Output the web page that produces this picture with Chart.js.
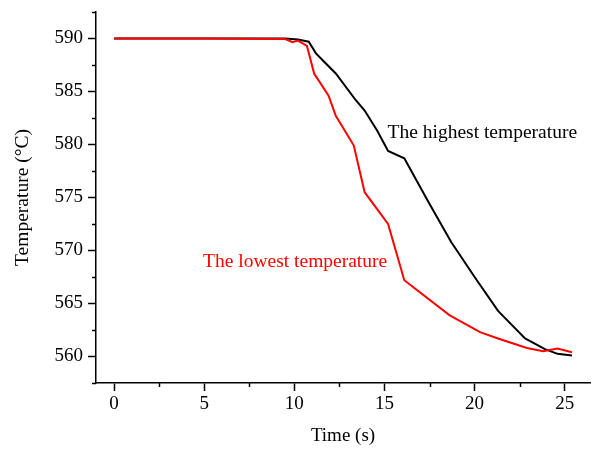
<!DOCTYPE html>
<html>
<head>
<meta charset="utf-8">
<script src="https://cdn.jsdelivr.net/npm/chart.js@4"></script>
<style>
  html, body { margin: 0; padding: 0; background: #fff; }
  #wrap { width: 592px; height: 452px; }
</style>
</head>
<body>
<div id="wrap"><canvas id="chart" width="592" height="452"></canvas></div>
<script>
// values
const highTime = [0, 5, 9.5, 10.2, 10.8, 11.2, 11.6, 12.3, 13.4, 13.9, 14.6, 15.2, 16.1, 17.4, 18.7, 20, 21.3, 22.8, 23.9, 24.6, 25.4];
const highTemp = [590, 590, 590, 589.9, 589.7, 588.6, 587.9, 586.7, 584.2, 583.2, 581.3, 579.4, 578.7, 574.7, 570.8, 567.5, 564.3, 561.7, 560.7, 560.25, 560.1];

const lowTime = [0, 5, 9.5, 9.9, 10.2, 10.7, 11.1, 11.9, 12.3, 13.3, 13.9, 15.2, 16.1, 18.6, 20.3, 21.3, 22.9, 23.8, 24.6, 25.4];
const lowTemp = [590, 590, 589.95, 589.65, 589.8, 589.3, 586.7, 584.6, 582.7, 579.9, 575.5, 572.5, 567.2, 563.9, 562.3, 561.7, 560.8, 560.5, 560.75, 560.4];

const xMajor = [0, 5, 10, 15, 20, 25];
const yMajor = [560, 565, 570, 575, 580, 585, 590];

const labels = [
  { text: 'The highest temperature', x: 15.17, y: 580.57, color: '#000000' },
  { text: 'The lowest temperature', x: 4.94, y: 568.4, color: '#ff0000' }
];

const FONT = "'Liberation Serif', 'Times New Roman', serif";

function toPoints(xs, ys) {
  return xs.map((x, i) => ({ x: x, y: ys[i] }));
}

function isMajor(v, list) {
  return list.some(m => Math.abs(m - v) < 1e-6);
}

// short ticks between the labelled ones
const minorTicks = {
  id: 'minorTicks',
  afterDraw(chart) {
    const c = chart.ctx;
    const xs = chart.scales.x, ys = chart.scales.y;
    const area = chart.chartArea;
    c.save();
    c.strokeStyle = '#000';
    c.lineWidth = 1.5;
    xs.ticks.forEach(t => {
      if (isMajor(t.value, xMajor)) return;
      const px = Math.round(xs.getPixelForValue(t.value)) + 0.5;
      c.beginPath();
      c.moveTo(px, area.bottom);
      c.lineTo(px, area.bottom + 4);
      c.stroke();
    });
    ys.ticks.forEach(t => {
      if (isMajor(t.value, yMajor)) return;
      const py = Math.round(ys.getPixelForValue(t.value)) + 0.5;
      c.beginPath();
      c.moveTo(area.left, py);
      c.lineTo(area.left - 4, py);
      c.stroke();
    });
    c.restore();
  }
};

const curveLabels = {
  id: 'curveLabels',
  afterDatasetsDraw(chart) {
    const c = chart.ctx;
    c.save();
    c.font = '19.5px ' + FONT;
    c.textAlign = 'left';
    c.textBaseline = 'alphabetic';
    labels.forEach(l => {
      c.fillStyle = l.color;
      c.fillText(l.text, chart.scales.x.getPixelForValue(l.x), chart.scales.y.getPixelForValue(l.y));
    });
    c.restore();
  }
};

function stepTicks(min, max, step) {
  const out = [];
  for (let v = min; v <= max + 1e-9; v += step) out.push({ value: Math.round(v * 100) / 100 });
  return out;
}

new Chart(document.getElementById('chart'), {
  type: 'line',
  data: {
    datasets: [
      {
        label: 'The highest temperature',
        data: toPoints(highTime, highTemp),
        borderColor: '#000000',
        borderWidth: 2,
        pointRadius: 0,
        tension: 0,
        fill: false,
        order: 2
      },
      {
        label: 'The lowest temperature',
        data: toPoints(lowTime, lowTemp),
        borderColor: '#ff0000',
        borderWidth: 2,
        pointRadius: 0,
        tension: 0,
        fill: false,
        order: 1
      }
    ]
  },
  options: {
    responsive: false,
    animation: false,
    layout: { padding: { top: 12, right: 2, left: 0, bottom: 0 } },
    plugins: {
      legend: { display: false },
      tooltip: { enabled: false }
    },
    scales: {
      x: {
        type: 'linear',
        min: -1,
        max: 26.4,
        afterBuildTicks: s => { s.ticks = stepTicks(0, 25, 2.5); },
        afterFit: s => { s.height = 69; s.paddingLeft = 0; s.paddingRight = 0; },
        border: { display: true, color: '#000', width: 1.5 },
        grid: {
          drawOnChartArea: false,
          drawTicks: true,
          tickLength: 8,
          tickWidth: 1.5,
          tickColor: ctx => isMajor(ctx.tick.value, xMajor) ? '#000' : 'rgba(0,0,0,0)'
        },
        ticks: {
          color: '#000',
          padding: 2,
          maxRotation: 0,
          autoSkip: false,
          font: { family: FONT, size: 19 },
          callback: v => isMajor(v, xMajor) ? String(v) : ''
        },
        title: {
          display: true,
          text: 'Time (s)',
          color: '#000',
          font: { family: FONT, size: 19 },
          padding: { top: 0, bottom: 5 }
        }
      },
      y: {
        type: 'linear',
        min: 557.5,
        max: 592.5,
        afterBuildTicks: s => { s.ticks = stepTicks(557.5, 592.5, 2.5); },
        afterFit: s => { s.width = 96; s.paddingTop = 0; s.paddingBottom = 0; },
        border: { display: true, color: '#000', width: 1.5 },
        grid: {
          drawOnChartArea: false,
          drawTicks: true,
          tickLength: 8,
          tickWidth: 1.5,
          tickColor: ctx => isMajor(ctx.tick.value, yMajor) ? '#000' : 'rgba(0,0,0,0)'
        },
        ticks: {
          color: '#000',
          padding: 5,
          autoSkip: false,
          font: { family: FONT, size: 19 },
          callback: v => isMajor(v, yMajor) ? String(v) : ''
        },
        title: {
          display: true,
          text: 'Temperature (°C)',
          color: '#000',
          font: { family: FONT, size: 19.5 },
          padding: { top: 11, bottom: 0 }
        }
      }
    }
  },
  plugins: [minorTicks, curveLabels]
});
</script>
</body>
</html>
